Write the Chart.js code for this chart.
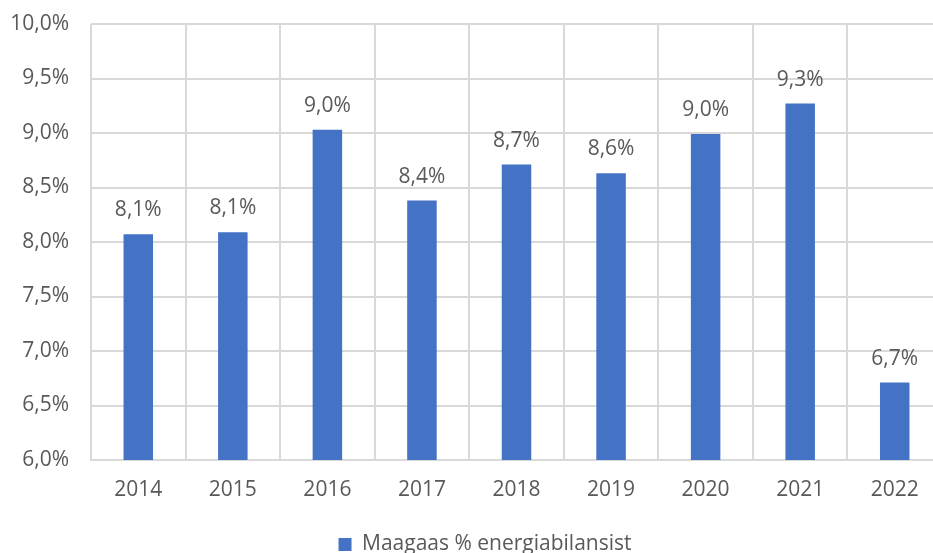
<!DOCTYPE html>
<html>
<head>
<meta charset="utf-8">
<script src="https://cdn.jsdelivr.net/npm/chart.js@4"></script>
<style>
  html, body { margin: 0; padding: 0; overflow: hidden; background: #fff; }
</style>
</head>
<body>
<canvas id="gasChart" width="970" height="553"></canvas>
<script>
// Maagaasi osakaal energiabilansis
const years = ['2014', '2015', '2016', '2017', '2018', '2019', '2020', '2021', '2022'];
const gasShare = [8.07, 8.09, 9.03, 8.38, 8.71, 8.63, 8.99, 9.27, 6.71];
const seriesLabel = 'Maagaas % energiabilansist';

const textColor = '#595959';
const gridColor = '#d9d9d9';
const barColor = '#4472C4';
const fontFamily = '"Open Sans", "Liberation Sans", sans-serif';

function pct(v) {
  return v.toFixed(1).replace('.', ',') + '%';
}

// Väärtused tulpade kohale
const barLabels = {
  id: 'barLabels',
  afterDatasetsDraw(chart) {
    const ctx = chart.ctx;
    ctx.save();
    ctx.font = '21px ' + fontFamily;
    ctx.fillStyle = textColor;
    ctx.textAlign = 'center';
    ctx.textBaseline = 'alphabetic';
    chart.getDatasetMeta(0).data.forEach(function(bar, i) {
      ctx.fillText(pct(gasShare[i]), bar.x, bar.y - 18);
    });
    ctx.restore();
  }
};

// Legend keskele kogu lõuendi laiuses (mitte ainult joonise all)
const centerLegend = {
  id: 'centerLegend',
  afterLayout(chart) {
    const shift = 14;
    chart.legend.left += shift;
    chart.legend.right += shift;
  }
};

new Chart(document.getElementById('gasChart'), {
  type: 'bar',
  data: {
    labels: years,
    datasets: [{
      label: seriesLabel,
      data: gasShare,
      backgroundColor: barColor,
      borderWidth: 0,
      barPercentage: 0.312,
      categoryPercentage: 1
    }]
  },
  options: {
    responsive: false,
    animation: false,
    layout: {
      padding: { left: 0, right: 28, top: 24, bottom: -12 }
    },
    plugins: {
      legend: {
        position: 'bottom',
        labels: {
          color: textColor,
          font: { family: fontFamily, size: 21 },
          boxWidth: 13,
          boxHeight: 13,
          padding: 3
        }
      },
      tooltip: { enabled: false }
    },
    scales: {
      x: {
        grid: { color: gridColor, lineWidth: 2, drawTicks: false },
        border: { color: gridColor, width: 2 },
        ticks: {
          color: textColor,
          font: { family: fontFamily, size: 21 },
          padding: 17
        },
        afterFit: function(scale) { scale.height = 71; }
      },
      y: {
        min: 6,
        max: 10,
        ticks: {
          stepSize: 0.5,
          color: textColor,
          font: { family: fontFamily, size: 21 },
          padding: 22,
          callback: function(value) { return pct(value); }
        },
        grid: { color: gridColor, lineWidth: 2, drawTicks: false },
        border: { display: false },
        afterFit: function(scale) {
          scale.width = 91;
          scale.paddingTop = 0;
          scale.paddingBottom = 0;
        }
      }
    }
  },
  plugins: [barLabels, centerLegend]
});
</script>
</body>
</html>
